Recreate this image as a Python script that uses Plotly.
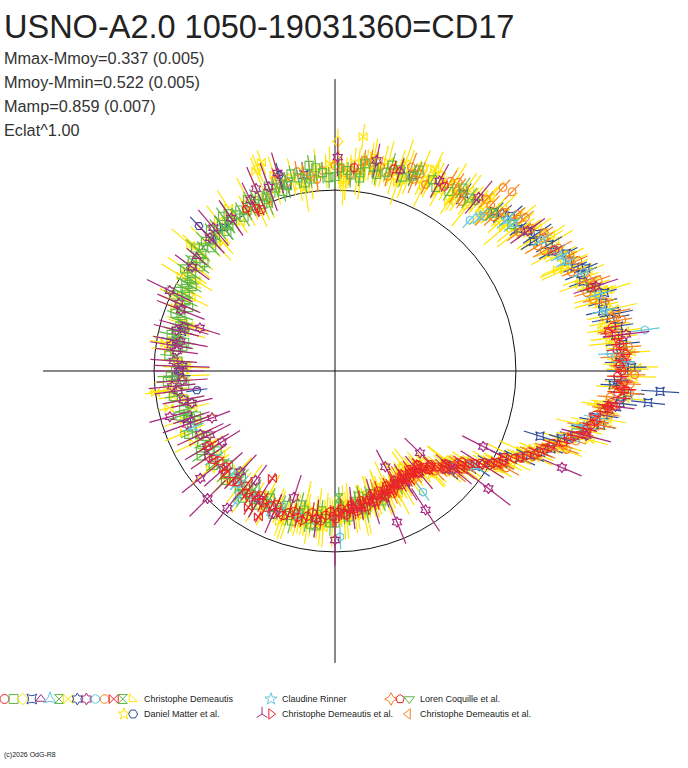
import numpy as np
import plotly.graph_objects as go

# ---------------- data: (phase, relative brightness "Eclat", error) ----------------
TITLE = "USNO-A2.0 1050-19031360=CD17"
STATS = ["Mmax-Mmoy=0.337 (0.005)", "Mmoy-Mmin=0.522 (0.005)", "Mamp=0.859 (0.007)", "Eclat^1.00"]
REF_CIRCLE = 0.851      # reference level drawn as circle
AXIS_HALF = 1.373       # half length of the cross axes

CD_YELLOW_BOWTIE = [
(0.005,0.930,0.09),(0.012,0.950,0.07),(0.018,0.945,0.11),(0.024,0.975,0.08),(0.031,0.960,0.06),
(0.037,0.990,0.10),(0.043,0.975,0.07),(0.049,1.000,0.09),(0.055,0.985,0.12),(0.062,1.010,0.06),
(0.068,0.990,0.08),(0.074,1.015,0.10),(0.081,1.000,0.07),(0.087,1.030,0.09),(0.093,1.005,0.06),
(0.099,1.035,0.11),(0.106,1.015,0.08),(0.112,1.045,0.07),(0.118,1.030,0.10),(0.124,1.065,0.09),
(0.131,1.060,0.06),(0.137,1.100,0.08),(0.143,1.085,0.11),(0.149,1.130,0.07),(0.156,1.120,0.09),
(0.162,1.160,0.10),(0.168,1.150,0.06),(0.174,1.195,0.08),(0.181,1.190,0.12),(0.187,1.240,0.07),
(0.193,1.235,0.09),(0.199,1.280,0.08),(0.206,1.270,0.10),(0.212,1.310,0.06),(0.218,1.300,0.09),
(0.224,1.335,0.07),(0.231,1.320,0.11),(0.237,1.360,0.08),(0.243,1.340,0.06),(0.249,1.375,0.10),
(0.256,1.350,0.08),(0.262,1.360,0.07),(0.268,1.300,0.09),(0.274,1.290,0.06),(0.281,1.230,0.10),
(0.287,1.210,0.08),(0.293,1.150,0.07),(0.300,1.130,0.09),(0.306,1.050,0.06),(0.312,1.030,0.08),
(0.318,0.960,0.07),(0.325,0.930,0.10),(0.331,0.870,0.06),(0.337,0.840,0.08),(0.343,0.790,0.07),
(0.350,0.760,0.09),(0.356,0.715,0.06),(0.362,0.690,0.08),(0.368,0.665,0.07),(0.375,0.640,0.10),
(0.381,0.625,0.06),(0.387,0.610,0.08),(0.393,0.590,0.07),(0.400,0.615,0.09),(0.406,0.585,0.06),
(0.412,0.610,0.08),(0.418,0.590,0.10),(0.425,0.620,0.07),(0.431,0.600,0.06),(0.437,0.630,0.09),
(0.443,0.605,0.08),(0.450,0.640,0.07),(0.456,0.615,0.10),(0.462,0.650,0.06),(0.468,0.625,0.08),
(0.475,0.665,0.09),(0.481,0.640,0.07),(0.487,0.680,0.11),(0.493,0.655,0.08),(0.500,0.690,0.10),
(0.506,0.665,0.07),(0.512,0.700,0.09),(0.518,0.675,0.12),(0.525,0.710,0.08),(0.531,0.690,0.10),
(0.537,0.715,0.07),(0.543,0.695,0.09),(0.550,0.720,0.11),(0.562,0.690,0.08),(0.575,0.715,0.10),
(0.590,0.690,0.07),(0.610,0.710,0.09),(0.630,0.705,0.06),(0.655,0.715,0.08),(0.680,0.700,0.07),
(0.700,0.745,0.10),(0.720,0.720,0.08),(0.740,0.760,0.09),(0.760,0.740,0.07),(0.780,0.775,0.10),
(0.800,0.750,0.08),(0.815,0.800,0.09),(0.830,0.785,0.07),(0.845,0.840,0.11),(0.860,0.825,0.08),
(0.875,0.860,0.10),(0.890,0.845,0.07),(0.905,0.880,0.09),(0.920,0.860,0.08),(0.935,0.895,0.12),
(0.950,0.895,0.07),(0.965,0.935,0.09),(0.980,0.915,0.10),(0.993,0.940,0.08),
(0.940,1.010,0.07),(0.946,1.040,0.06),(0.731,0.850,0.05),(0.715,0.800,0.05),(0.019,1.110,0.06),
(0.003,0.960,0.08),(0.009,0.905,0.10),(0.015,0.985,0.07),(0.021,0.925,0.11),(0.027,1.000,0.09),
(0.034,0.945,0.06),(0.040,1.015,0.10),(0.046,0.950,0.08),(0.052,1.030,0.12),(0.058,0.960,0.07),
(0.065,1.040,0.09),(0.071,0.965,0.11),(0.077,1.045,0.06),(0.083,0.975,0.08),(0.090,1.055,0.10),
(0.096,0.985,0.07),(0.102,1.060,0.09),(0.108,0.995,0.12),(0.115,1.075,0.08),(0.121,1.010,0.06),
(0.127,1.100,0.10),(0.133,1.040,0.07),(0.140,1.135,0.09),(0.146,1.070,0.11),(0.152,1.165,0.08),
(0.158,1.100,0.06),(0.165,1.200,0.10),(0.171,1.140,0.09),(0.177,1.235,0.07),(0.184,1.180,0.12),
(0.190,1.280,0.08),(0.196,1.220,0.10),(0.203,1.320,0.06),(0.209,1.255,0.09),(0.215,1.345,0.11),
(0.222,1.285,0.07),(0.228,1.375,0.08),(0.234,1.300,0.10),(0.240,1.395,0.09),(0.246,1.320,0.06),
(0.253,1.400,0.11),(0.259,1.310,0.08),(0.265,1.370,0.10),(0.271,1.265,0.07),(0.278,1.300,0.09),
(0.284,1.185,0.12),(0.290,1.220,0.06),(0.296,1.105,0.08),(0.303,1.130,0.10),(0.309,1.000,0.07),
(0.315,1.025,0.09),(0.321,0.910,0.11),(0.328,0.935,0.06),(0.334,0.830,0.08),(0.340,0.840,0.10),
(0.346,0.740,0.07),(0.353,0.765,0.09),(0.359,0.680,0.12),(0.365,0.710,0.08),(0.371,0.630,0.06),
(0.378,0.650,0.10),(0.384,0.580,0.07),(0.390,0.630,0.09),(0.396,0.570,0.11),(0.403,0.628,0.08),
(0.409,0.570,0.06),(0.415,0.632,0.10),(0.421,0.575,0.09),(0.428,0.640,0.07),(0.434,0.585,0.12),
(0.440,0.650,0.08),(0.446,0.592,0.10),(0.453,0.660,0.06),(0.459,0.600,0.09),(0.465,0.675,0.11),
(0.471,0.615,0.07),(0.478,0.690,0.08),(0.484,0.630,0.10),(0.490,0.705,0.09),(0.496,0.645,0.06),
(0.503,0.718,0.11),(0.509,0.655,0.08),(0.515,0.725,0.10),(0.521,0.665,0.07),(0.528,0.735,0.09),
(0.534,0.670,0.12),(0.540,0.740,0.06),(0.546,0.675,0.08),(0.553,0.738,0.10),(0.565,0.672,0.07),
(0.585,0.735,0.09),(0.605,0.668,0.11),(0.625,0.730,0.08),(0.650,0.665,0.06),(0.675,0.745,0.10),
(0.695,0.690,0.09),(0.725,0.770,0.07),(0.745,0.710,0.12),(0.770,0.790,0.08),(0.790,0.730,0.10),
(0.810,0.810,0.06),(0.825,0.760,0.09),(0.838,0.850,0.11),(0.852,0.800,0.07),(0.866,0.880,0.08),
(0.880,0.815,0.10),(0.895,0.895,0.09),(0.910,0.830,0.06),(0.925,0.910,0.11),(0.940,0.855,0.08),
(0.955,0.950,0.10),(0.970,0.885,0.07),(0.985,0.960,0.09),
(0.007,0.880,0.10),(0.029,1.030,0.08),(0.051,0.935,0.11),(0.073,1.060,0.09),(0.094,0.960,0.07),
(0.116,1.095,0.10),(0.138,1.040,0.12),(0.160,1.200,0.08),(0.182,1.150,0.09),(0.204,1.340,0.11),
(0.226,1.270,0.07),(0.248,1.420,0.10),(0.270,1.250,0.08),(0.292,1.240,0.09),(0.314,0.950,0.11),
(0.336,0.900,0.07),(0.358,0.660,0.10),(0.380,0.670,0.08),(0.402,0.555,0.09),(0.424,0.650,0.11),
(0.446,0.575,0.07),(0.468,0.690,0.10),(0.490,0.620,0.08),(0.512,0.740,0.09),(0.534,0.650,0.12),
(0.556,0.755,0.07),(0.578,0.655,0.10),(0.600,0.745,0.08),(0.622,0.655,0.09),(0.644,0.745,0.11),
(0.666,0.670,0.07),(0.688,0.765,0.10),(0.710,0.690,0.08),(0.732,0.790,0.09),(0.754,0.700,0.11),
(0.776,0.810,0.07),(0.798,0.720,0.10),(0.820,0.830,0.08),(0.842,0.780,0.09),(0.864,0.900,0.12),
(0.886,0.800,0.07),(0.908,0.915,0.10),(0.930,0.830,0.08),(0.952,0.965,0.09),(0.974,0.870,0.11),
(0.996,0.975,0.08),
]

CD_GREEN_SQUARE = [
(0.000,0.915,0.05),(0.010,0.945,0.04),(0.020,0.940,0.06),(0.030,0.975,0.05),(0.040,0.965,0.04),
(0.050,0.995,0.06),(0.060,0.985,0.05),(0.075,1.010,0.04),(0.090,1.000,0.05),(0.105,1.030,0.06),
(0.125,1.050,0.05),(0.140,1.080,0.04),(0.200,1.265,0.05),(0.290,1.170,0.04),
(0.420,0.610,0.05),(0.440,0.625,0.04),(0.460,0.620,0.06),(0.470,0.655,0.05),(0.480,0.640,0.04),
(0.490,0.675,0.05),(0.500,0.665,0.06),(0.510,0.695,0.04),(0.520,0.680,0.05),(0.530,0.710,0.06),
(0.540,0.695,0.04),(0.550,0.715,0.05),(0.560,0.690,0.06),(0.570,0.710,0.04),(0.580,0.695,0.05),
(0.590,0.715,0.06),(0.600,0.690,0.05),(0.610,0.705,0.04),(0.620,0.690,0.06),(0.630,0.710,0.05),
(0.640,0.685,0.04),(0.650,0.705,0.05),(0.660,0.695,0.06),(0.670,0.715,0.04),(0.680,0.705,0.05),
(0.690,0.725,0.06),(0.700,0.715,0.04),(0.710,0.735,0.05),(0.720,0.725,0.06),(0.730,0.745,0.05),
(0.740,0.730,0.04),(0.750,0.750,0.05),(0.760,0.740,0.06),(0.770,0.760,0.04),(0.780,0.750,0.05),
(0.790,0.770,0.06),(0.800,0.755,0.05),(0.810,0.780,0.04),(0.820,0.775,0.06),(0.830,0.805,0.05),
(0.840,0.800,0.04),(0.850,0.835,0.05),(0.860,0.830,0.06),(0.870,0.850,0.04),(0.880,0.840,0.05),
(0.890,0.865,0.06),(0.900,0.850,0.05),(0.910,0.870,0.04),(0.920,0.860,0.05),(0.930,0.885,0.06),
(0.940,0.880,0.04),(0.950,0.905,0.05),(0.960,0.900,0.06),(0.970,0.925,0.05),(0.980,0.910,0.04),
(0.990,0.935,0.05),
(0.845,0.815,0.05),(0.855,0.850,0.04),(0.865,0.835,0.05),(0.875,0.862,0.06),(0.885,0.850,0.04),
(0.895,0.872,0.05),(0.905,0.858,0.06),(0.915,0.880,0.04),(0.925,0.870,0.05),(0.935,0.898,0.05),
(0.945,0.890,0.04),(0.955,0.915,0.06),(0.775,0.745,0.05),(0.785,0.765,0.04),(0.795,0.760,0.05),
(0.805,0.770,0.06),(0.815,0.790,0.05),(0.825,0.790,0.04),(0.835,0.815,0.05),
(0.575,0.700,0.05),(0.585,0.705,0.04),(0.595,0.700,0.05),(0.605,0.712,0.06),(0.615,0.695,0.05),
(0.003,0.955,0.05),(0.013,0.925,0.06),(0.023,0.985,0.04),(0.033,0.945,0.05),(0.043,1.005,0.06),
(0.053,0.965,0.05),(0.063,1.025,0.04),(0.080,0.985,0.05),(0.097,1.050,0.06),
(0.445,0.650,0.05),(0.455,0.600,0.04),(0.465,0.670,0.06),(0.475,0.620,0.05),(0.485,0.690,0.04),
(0.495,0.640,0.05),(0.505,0.715,0.06),(0.515,0.660,0.05),(0.525,0.730,0.04),(0.535,0.670,0.05),
(0.545,0.735,0.06),(0.555,0.672,0.05),(0.565,0.735,0.04),(0.575,0.670,0.05),(0.585,0.733,0.06),
(0.595,0.668,0.05),(0.605,0.730,0.04),(0.615,0.665,0.05),(0.625,0.728,0.06),(0.635,0.668,0.05),
(0.645,0.725,0.04),(0.655,0.670,0.05),(0.665,0.735,0.06),(0.675,0.680,0.05),(0.685,0.750,0.04),
(0.695,0.690,0.05),(0.705,0.760,0.06),(0.715,0.700,0.05),(0.725,0.770,0.04),(0.735,0.710,0.05),
(0.745,0.775,0.06),(0.755,0.715,0.05),(0.765,0.785,0.04),(0.775,0.725,0.05),(0.785,0.790,0.06),
(0.795,0.735,0.05),(0.805,0.800,0.04),(0.815,0.750,0.05),(0.825,0.825,0.06),(0.835,0.780,0.05),
(0.845,0.855,0.04),(0.855,0.800,0.05),(0.865,0.875,0.06),(0.875,0.820,0.05),(0.885,0.885,0.04),
(0.895,0.830,0.05),(0.905,0.895,0.06),(0.915,0.840,0.05),(0.925,0.905,0.04),(0.935,0.855,0.05),
(0.945,0.925,0.06),(0.955,0.880,0.05),(0.965,0.950,0.04),(0.975,0.895,0.05),(0.985,0.960,0.06),
(0.995,0.910,0.05),
(0.600,0.740,0.05),(0.620,0.660,0.06),(0.660,0.745,0.05),(0.700,0.685,0.04),(0.740,0.790,0.05),
(0.780,0.720,0.06),(0.820,0.840,0.05),(0.860,0.800,0.04),(0.900,0.900,0.05),(0.940,0.850,0.06),
(0.980,0.975,0.05),(0.020,0.915,0.04),(0.500,0.715,0.05),(0.540,0.650,0.06),(0.470,0.600,0.05),
]

CD_RED_CIRCLE = [
(0.225,1.320,0.04),(0.232,1.340,0.03),(0.238,1.330,0.05),(0.244,1.355,0.04),(0.250,1.350,0.03),
(0.256,1.360,0.04),(0.262,1.335,0.05),(0.268,1.310,0.03),(0.274,1.280,0.04),(0.280,1.250,0.03),
(0.286,1.215,0.05),(0.292,1.170,0.04),(0.298,1.125,0.03),(0.304,1.070,0.04),(0.310,1.030,0.05),
(0.316,0.985,0.03),(0.322,0.940,0.04),(0.328,0.900,0.03),(0.334,0.860,0.05),(0.340,0.810,0.04),
(0.346,0.770,0.03),(0.352,0.740,0.04),(0.358,0.710,0.05),(0.364,0.690,0.03),(0.370,0.660,0.04),
(0.376,0.635,0.03),(0.382,0.615,0.05),(0.388,0.605,0.04),(0.394,0.600,0.03),(0.400,0.595,0.04),
(0.406,0.605,0.05),(0.412,0.595,0.03),(0.418,0.605,0.04),(0.424,0.600,0.03),(0.430,0.612,0.05),
(0.436,0.608,0.04),(0.442,0.620,0.03),(0.448,0.618,0.04),(0.454,0.630,0.05),(0.460,0.628,0.03),
(0.466,0.642,0.04),(0.472,0.640,0.03),(0.478,0.655,0.05),(0.484,0.650,0.04),(0.490,0.670,0.03),
(0.496,0.665,0.04),(0.502,0.685,0.05),(0.510,0.680,0.03),(0.520,0.700,0.04),(0.530,0.695,0.03),
(0.540,0.710,0.05),(0.550,0.700,0.04),(0.560,0.715,0.03),(0.570,0.700,0.04),(0.580,0.705,0.05),
(0.590,0.695,0.03),(0.600,0.710,0.04),(0.615,0.695,0.03),(0.630,0.705,0.04),(0.645,0.690,0.03),
(0.932,0.835,0.03),(0.928,0.850,0.04),
(0.235,1.345,0.04),(0.247,1.340,0.03),(0.259,1.345,0.04),(0.271,1.295,0.03),(0.283,1.230,0.04),
(0.295,1.150,0.03),(0.307,1.050,0.04),(0.319,0.960,0.03),(0.331,0.880,0.04),(0.343,0.790,0.03),
(0.385,0.608,0.04),(0.397,0.598,0.03),(0.409,0.600,0.04),(0.421,0.603,0.03),(0.433,0.610,0.04),
(0.228,1.300,0.04),(0.241,1.370,0.03),(0.253,1.330,0.05),(0.265,1.355,0.04),(0.277,1.240,0.03),
(0.289,1.210,0.04),(0.301,1.080,0.05),(0.313,1.020,0.03),(0.325,0.895,0.04),(0.337,0.850,0.03),
(0.349,0.735,0.05),(0.355,0.750,0.04),(0.361,0.680,0.03),(0.367,0.690,0.04),(0.373,0.630,0.05),
(0.379,0.640,0.03),(0.385,0.590,0.04),(0.391,0.620,0.03),(0.397,0.580,0.05),(0.403,0.615,0.04),
(0.409,0.580,0.03),(0.415,0.620,0.04),(0.421,0.585,0.05),(0.427,0.625,0.03),(0.433,0.592,0.04),
(0.439,0.635,0.03),(0.445,0.600,0.05),(0.451,0.645,0.04),(0.457,0.612,0.03),(0.463,0.655,0.04),
(0.469,0.622,0.05),(0.475,0.668,0.03),(0.481,0.635,0.04),(0.487,0.680,0.03),(0.493,0.650,0.05),
(0.499,0.695,0.04),(0.505,0.662,0.03),(0.515,0.708,0.04),(0.525,0.675,0.05),(0.535,0.720,0.03),
(0.545,0.688,0.04),(0.555,0.722,0.03),(0.565,0.685,0.05),(0.575,0.720,0.04),(0.585,0.682,0.03),
(0.595,0.718,0.04),(0.605,0.685,0.05),(0.620,0.712,0.03),(0.635,0.682,0.04),(0.650,0.708,0.03),
(0.665,0.690,0.04),(0.015,0.960,0.03),(0.045,0.990,0.04),(0.085,1.010,0.03),(0.170,1.180,0.04),
(0.200,1.265,0.03),
]

CD_ORANGE_OCTAGON = [
(0.960,0.915,0.05),(0.975,0.930,0.06),(0.990,0.945,0.04),(0.005,0.955,0.05),(0.020,0.960,0.06),
(0.035,0.985,0.05),(0.050,0.990,0.04),(0.065,1.010,0.06),(0.080,1.015,0.05),(0.095,1.025,0.07),
(0.110,1.040,0.05),(0.120,1.070,0.06),(0.130,1.090,0.04),(0.140,1.120,0.05),(0.150,1.140,0.06),
(0.160,1.165,0.05),(0.170,1.200,0.07),(0.180,1.220,0.05),(0.190,1.260,0.06),(0.200,1.285,0.04),
(0.210,1.310,0.05),(0.220,1.330,0.06),(0.230,1.345,0.05),(0.240,1.365,0.07),(0.250,1.375,0.05),
(0.260,1.355,0.06),(0.270,1.320,0.04),(0.280,1.260,0.05),(0.290,1.195,0.06),(0.300,1.130,0.05),
(0.310,1.045,0.07),(0.320,0.970,0.05),(0.330,0.900,0.06),(0.340,0.820,0.04),(0.350,0.765,0.05),
(0.360,0.720,0.06),(0.370,0.675,0.05),(0.380,0.635,0.04),(0.395,0.615,0.05),(0.410,0.615,0.06),
(0.425,0.620,0.05),(0.440,0.630,0.04),(0.118,1.170,0.05),(0.124,1.185,0.05),
(0.970,0.955,0.05),(0.985,0.905,0.06),(0.000,0.965,0.04),(0.012,0.925,0.05),(0.027,0.995,0.06),
(0.042,0.950,0.05),(0.057,1.025,0.07),(0.072,0.975,0.05),(0.087,1.045,0.06),(0.102,0.995,0.04),
(0.115,1.075,0.05),(0.127,1.040,0.06),(0.137,1.130,0.05),(0.147,1.085,0.07),(0.157,1.180,0.05),
(0.167,1.135,0.06),(0.177,1.230,0.04),(0.187,1.205,0.05),(0.197,1.310,0.06),(0.207,1.260,0.05),
(0.217,1.350,0.07),(0.227,1.300,0.05),(0.237,1.385,0.06),(0.247,1.330,0.04),(0.257,1.390,0.05),
(0.265,1.300,0.06),(0.275,1.310,0.05),(0.285,1.190,0.07),(0.295,1.180,0.05),(0.305,1.060,0.06),
(0.315,1.015,0.04),(0.325,0.905,0.05),(0.335,0.875,0.06),(0.345,0.765,0.05),(0.355,0.760,0.07),
(0.365,0.675,0.05),(0.375,0.665,0.06),(0.385,0.585,0.04),(0.400,0.630,0.05),(0.415,0.580,0.06),
(0.430,0.640,0.05),(0.450,0.605,0.07),(0.470,0.665,0.05),
(0.122,1.010,0.06),(0.142,1.150,0.05),(0.162,1.120,0.07),(0.182,1.255,0.05),(0.202,1.240,0.06),
(0.222,1.370,0.05),(0.242,1.320,0.07),(0.252,1.410,0.05),(0.262,1.390,0.06),(0.272,1.270,0.05),
(0.282,1.280,0.07),(0.292,1.150,0.05),(0.302,1.150,0.06),(0.312,0.990,0.05),(0.332,0.925,0.07),
(0.352,0.720,0.05),(0.362,0.745,0.06),(0.022,1.000,0.05),(0.062,0.975,0.07),(0.092,1.060,0.05),
(0.952,0.940,0.06),(0.942,0.870,0.05),
]

CD_MAGENTA_HEXAGRAM = [
(0.002,1.006,0.09),(0.031,1.010,0.08),(0.955,0.970,0.10),(0.927,0.898,0.09),(0.888,0.884,0.11),
(0.822,0.864,0.12),(0.799,0.667,0.10),(0.780,0.740,0.13),(0.760,0.760,0.11),(0.740,0.720,0.12),
(0.707,0.806,0.10),(0.692,0.619,0.09),(0.680,0.700,0.12),(0.661,0.627,0.10),(0.643,0.810,0.11),
(0.625,0.848,0.12),(0.606,0.820,0.10),(0.600,0.636,0.09),(0.550,0.625,0.11),(0.520,0.700,0.09),
(0.500,0.795,0.12),(0.480,0.650,0.10),(0.438,0.768,0.11),(0.423,0.509,0.09),(0.408,0.780,0.12),
(0.372,0.555,0.10),(0.354,0.909,0.13),(0.325,0.782,0.11),(0.314,1.160,0.10),(0.270,1.330,0.09),
(0.200,1.290,0.11),(0.150,1.120,0.10),(0.080,1.020,0.09),(0.850,0.830,0.10),(0.810,0.780,0.12),
(0.790,0.770,0.11),(0.770,0.750,0.10),(0.750,0.735,0.12),(0.730,0.745,0.11),(0.720,0.725,0.10),
(0.815,0.800,0.11),(0.795,0.740,0.12),(0.775,0.780,0.10),(0.755,0.720,0.13),(0.735,0.770,0.11),
(0.715,0.690,0.10),(0.695,0.740,0.12),(0.675,0.660,0.11),(0.655,0.720,0.10),(0.635,0.700,0.12),
(0.620,0.650,0.11),(0.585,0.700,0.10),(0.340,0.820,0.12),(0.360,0.725,0.11),(0.390,0.620,0.10),
(0.455,0.640,0.11),(0.905,0.870,0.10),(0.945,0.920,0.12),
(0.110,1.060,0.10),(0.230,1.380,0.11),(0.290,1.220,0.12),(0.880,0.860,0.10),(0.935,0.935,0.11),
(0.665,0.700,0.12),(0.565,0.730,0.10),
]

CD_BLUE_STARSQUARE = [
(0.150,1.120,0.06),(0.165,1.170,0.07),(0.180,1.215,0.05),(0.190,1.245,0.08),(0.200,1.270,0.06),
(0.210,1.300,0.07),(0.220,1.320,0.09),(0.230,1.330,0.06),(0.240,1.345,0.07),(0.250,1.360,0.08),
(0.260,1.532,0.09),(0.266,1.480,0.08),(0.272,1.300,0.06),(0.280,1.240,0.07),(0.299,1.012,0.08),
(0.305,1.080,0.06),(0.325,0.890,0.07),(0.100,1.030,0.06),(0.060,0.990,0.05),(0.960,0.905,0.06),
(0.780,0.760,0.07),(0.750,0.730,0.06),(0.700,0.730,0.05),(0.880,0.845,0.06),(0.440,0.640,0.05),
(0.410,0.620,0.06),(0.170,1.165,0.07),(0.185,1.230,0.06),(0.235,1.360,0.08),(0.245,1.340,0.07),
(0.125,1.060,0.06),(0.135,1.105,0.07),(0.145,1.090,0.05),(0.155,1.150,0.08),(0.175,1.220,0.06),
(0.195,1.240,0.07),(0.205,1.320,0.06),(0.215,1.290,0.08),(0.225,1.350,0.07),(0.255,1.330,0.06),
(0.262,1.380,0.08),(0.276,1.280,0.07),(0.286,1.200,0.06),(0.292,1.165,0.07),(0.310,1.040,0.06),
(0.320,0.960,0.08),(0.335,0.850,0.07),(0.350,0.760,0.06),(0.745,0.750,0.07),(0.790,0.745,0.06),
(0.895,0.855,0.07),(0.975,0.935,0.06),
(0.158,1.115,0.07),(0.188,1.275,0.06),(0.218,1.350,0.08),(0.248,1.395,0.07),(0.258,1.310,0.06),
(0.268,1.350,0.08),(0.282,1.275,0.07),(0.296,1.110,0.06),(0.315,1.000,0.07),(0.330,0.900,0.06),
(0.345,0.800,0.08),(0.365,0.700,0.07),
]

CD_CYAN_HEXAGON = [
(0.116,0.952,0.05),(0.140,1.090,0.06),(0.160,1.150,0.05),(0.205,1.290,0.06),(0.229,1.470,0.07),
(0.278,1.250,0.06),(0.295,1.150,0.05),(0.400,0.704,0.05),(0.495,0.780,0.06),(0.603,0.762,0.05),
(0.625,0.675,0.04),(0.650,0.700,0.05),(0.560,0.700,0.05),(0.170,1.185,0.05),(0.190,1.260,0.06),
(0.265,1.360,0.05),(0.240,1.300,0.06),(0.570,0.705,0.05),(0.615,0.705,0.04),(0.540,0.700,0.05),
]
CD_RED_BOWTIE = [(0.584,0.585,0.03),(0.577,0.775,0.03),(0.590,0.760,0.04)]
CD_MAGENTA_TRIANGLE = [(0.860,0.845,0.06),(0.470,0.660,0.05),(0.050,0.990,0.06)]
CD_CYAN_STARTRI = [(0.690,0.720,0.05),(0.180,1.200,0.05)]
CD_GREEN_HOURGLASS = [(0.495,0.597,0.05),(0.520,0.735,0.05),(0.900,0.845,0.04)]
CD_YELLOW_DIAMOND = [(0.110,1.060,0.06),(0.300,1.100,0.07),(0.002,1.080,0.06),(0.942,1.020,0.07)]
CD_BLUE_ASTERISK = [(0.130,1.080,0.06),(0.360,0.700,0.05)]
CD_GREEN_HOURGLASS2 = [(0.705,0.725,0.05),(0.835,0.800,0.05)]
CD_YELLOW_ANGLE = [(0.600,0.700,0.06),(0.985,0.925,0.07)]

CR_CYAN_STAR = [
(0.120,1.000,0.05),(0.135,1.075,0.06),(0.175,1.190,0.05),(0.215,1.300,0.06),(0.245,1.360,0.05),
(0.285,1.200,0.06),(0.345,0.790,0.05),(0.610,0.690,0.05),(0.590,0.710,0.05),
]
LC_ORANGE_STARDIAMOND = [(0.100,1.030,0.05),(0.980,0.930,0.05),(0.195,1.270,0.06)]
LC_RED_PENTAGON = [(0.920,0.870,0.04),(0.260,1.370,0.05)]
LC_GREEN_TRIDOWN = [(0.930,0.880,0.04),(0.110,1.035,0.05)]
DM_YELLOW_STAR = [(0.150,1.130,0.08),(0.330,0.880,0.08),(0.760,0.745,0.07)]
DM_BLUE_HEXAGON = [(0.880,0.935,0.06),(0.728,0.656,0.05),(0.956,0.958,0.06)]
CDA_MAGENTA_Y = [(0.410,0.620,0.10),(0.700,0.710,0.09)]
CDA_RED_TRIRIGHT = [(0.440,0.625,0.04),(0.270,1.300,0.05)]
CDA2_ORANGE_TRILEFT = [(0.285,1.225,0.05),(0.060,1.000,0.05)]

# ---------------- styles ----------------
YEL = "#FFE500"; GRN = "#62B946"; RED = "#EC2227"; ORA = "#F7811F"
MAG = "#A8287E"; BLU = "#2D4C9F"; CYA = "#62C8DD"

SERIES = [  # drawing order (first = bottom)
    (CD_YELLOW_BOWTIE, YEL, "bowtie-open"),
    (CD_YELLOW_DIAMOND, YEL, "diamond-open"),
    (CD_YELLOW_ANGLE, YEL, "triangle-sw-open"),
    (DM_YELLOW_STAR, YEL, "star-open"),
    (CD_BLUE_STARSQUARE, BLU, "star-square-open"),
    (CD_BLUE_ASTERISK, BLU, "hexagram-open"),
    (DM_BLUE_HEXAGON, BLU, "hexagon2-open"),
    (CD_ORANGE_OCTAGON, ORA, "octagon-open"),
    (LC_ORANGE_STARDIAMOND, ORA, "star-diamond-open"),
    (CDA2_ORANGE_TRILEFT, ORA, "triangle-left-open"),
    (CD_GREEN_SQUARE, GRN, "square-open"),
    (CD_GREEN_HOURGLASS, GRN, "hourglass-open"),
    (CD_GREEN_HOURGLASS2, GRN, "hourglass-open"),
    (LC_GREEN_TRIDOWN, GRN, "triangle-down-open"),
    (CD_CYAN_HEXAGON, CYA, "hexagon-open"),
    (CD_CYAN_STARTRI, CYA, "star-triangle-up-open"),
    (CR_CYAN_STAR, CYA, "star-open"),
    (CD_MAGENTA_HEXAGRAM, MAG, "hexagram-open"),
    (CD_MAGENTA_TRIANGLE, MAG, "triangle-up-open"),
    (CDA_MAGENTA_Y, MAG, "y-up-open"),
    (CD_RED_CIRCLE, RED, "circle-open"),
    (CD_RED_BOWTIE, RED, "bowtie-open"),
    (LC_RED_PENTAGON, RED, "pentagon-open"),
    (CDA_RED_TRIRIGHT, RED, "triangle-right-open"),
]

W, H = 688, 768
CX, CY = 335, 371          # pixel position of the pole
PX_PER_UNIT = 212.6
FONT = "Liberation Sans, Arial, sans-serif"

fig = go.Figure()

for pts, col, sym in SERIES:
    ph = np.array([p[0] for p in pts]); f = np.array([p[1] for p in pts]); e = np.array([p[2] for p in pts])
    a = 2 * np.pi * ph
    s, c = np.sin(a), np.cos(a)
    nan = np.full_like(f, np.nan)
    ex = np.column_stack([(f - e) * s, (f + e) * s, nan]).ravel()
    ey = np.column_stack([(f - e) * c, (f + e) * c, nan]).ravel()
    fig.add_trace(go.Scatter(x=ex, y=ey, mode="lines", line=dict(color=col, width=1.2),
                             hoverinfo="skip", showlegend=False))
    fig.add_trace(go.Scatter(x=f * s, y=f * c, mode="markers",
                             marker=dict(symbol=sym, size=8, color=col, line=dict(width=1.1, color=col)),
                             showlegend=False))

# ---------------- custom legend (pixel axes) ----------------
LEGEND = [
    ([("circle-open", RED), ("square-open", GRN), ("diamond-open", YEL), ("star-square-open", BLU),
      ("triangle-up-open", MAG), ("star-triangle-up-open", CYA), ("hourglass-open", GRN),
      ("bowtie-open", YEL), ("hexagram-open", BLU), ("hexagram-open", MAG), ("hexagon-open", CYA),
      ("octagon-open", ORA), ("bowtie-open", RED), ("hourglass-open", GRN), ("triangle-sw-open", YEL)],
     4.5, 699, "Christophe Demeautis", 142),
    ([("star-open", CYA)], 271, 699, "Claudine Rinner", 280),
    ([("star-diamond-open", ORA), ("pentagon-open", RED), ("triangle-down-open", GRN)], 391, 699,
     "Loren Coquille et al.", 418),
    ([("star-open", YEL), ("hexagon2-open", BLU)], 124, 714, "Daniel Matter et al.", 142),
    ([("y-up-open", MAG), ("triangle-right-open", RED)], 262, 714, "Christophe Demeautis et al.", 280),
    ([("triangle-left-open", ORA)], 408, 714, "Christophe Demeautis et al.", 418),
]
annotations = []
for syms, x0, y0, label, lx in LEGEND:
    for i, (sym, col) in enumerate(syms):
        fig.add_trace(go.Scatter(x=[x0 + 9.1 * i], y=[y0], mode="markers", xaxis="x2", yaxis="y2",
                                 marker=dict(symbol=sym, size=9, color=col, line=dict(width=1, color=col)),
                                 showlegend=False, hoverinfo="skip"))
    annotations.append(dict(x=lx / W, y=1 - y0 / H, xref="paper", yref="paper", text=label,
                            showarrow=False, xanchor="left", yanchor="middle",
                            font=dict(family=FONT, size=9, color="#222")))

annotations.append(dict(x=2 / W, y=1 - 27 / H, xref="paper", yref="paper", text=TITLE, showarrow=False,
                        xanchor="left", yanchor="middle", font=dict(family=FONT, size=32.5, color="#222")))
for i, t in enumerate(STATS):
    annotations.append(dict(x=2 / W, y=1 - (58 + 24 * i) / H, xref="paper", yref="paper", text=t,
                            showarrow=False, xanchor="left", yanchor="middle",
                            font=dict(family=FONT, size=16.3, color="#333")))
annotations.append(dict(x=2 / W, y=1 - 755 / H, xref="paper", yref="paper", text="(c)2026 OdG-R8",
                        showarrow=False, xanchor="left", yanchor="middle",
                        font=dict(family=FONT, size=7, color="#222")))

shapes = [
    dict(type="circle", xref="x", yref="y", x0=-REF_CIRCLE, x1=REF_CIRCLE, y0=-REF_CIRCLE, y1=REF_CIRCLE,
         line=dict(color="#111", width=1), layer="below"),
    dict(type="line", xref="x", yref="y", x0=-AXIS_HALF, x1=AXIS_HALF, y0=0, y1=0,
         line=dict(color="#111", width=1), layer="below"),
    dict(type="line", xref="x", yref="y", x0=0, x1=0, y0=-AXIS_HALF, y1=AXIS_HALF,
         line=dict(color="#111", width=1), layer="below"),
]

fig.update_layout(
    width=W, height=H, margin=dict(l=0, r=0, t=0, b=0),
    paper_bgcolor="white", plot_bgcolor="rgba(0,0,0,0)",
    xaxis=dict(range=[-CX / PX_PER_UNIT, (W - CX) / PX_PER_UNIT], visible=False, domain=[0, 1]),
    yaxis=dict(range=[-(H - CY) / PX_PER_UNIT, CY / PX_PER_UNIT], visible=False, domain=[0, 1]),
    xaxis2=dict(range=[0, W], visible=False, overlaying="x", anchor="y2"),
    yaxis2=dict(range=[H, 0], visible=False, overlaying="y", anchor="x2"),
    annotations=annotations, shapes=shapes, showlegend=False,
)
fig.write_html("out.html", config={"displayModeBar": False},
               post_script="document.body.style.margin='0px';")
